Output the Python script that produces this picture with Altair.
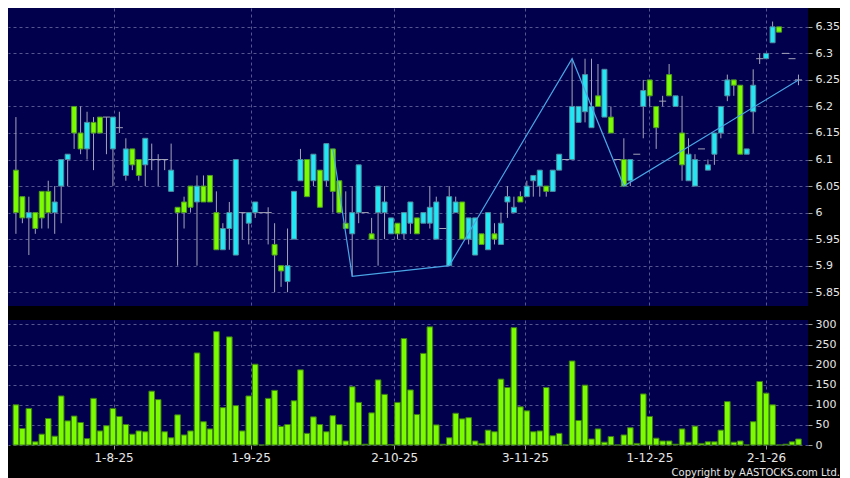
import altair as alt
import pandas as pd

# ---- data ----
opens = [6.08, 6.03, 5.99, 6.00, 6.04, 6.04, 6.00, 6.05, 6.10, 6.20,
         6.15, 6.12, 6.17, 6.18, 6.18, 6.12, 6.16, 6.07, 6.12, 6.10,
         6.09, 6.10, 6.10, 6.10, 6.04, 6.01, 6.02, 6.05, 6.02, 6.05,
         6.07, 6.00, 5.93, 5.97, 5.92, 6.00, 5.98, 6.00, 6.00, 6.00,
         5.94, 5.90, 5.87, 5.95, 6.06, 6.10, 6.06, 6.08, 6.06, 6.12,
         6.06, 5.98, 5.96, 6.00, 6.00, 5.96, 6.00, 6.00, 5.96, 5.98,
         5.96, 5.98, 5.99, 5.98, 5.98, 5.95, 5.97, 5.90, 6.00, 6.02,
         5.95, 5.92, 5.96, 5.93, 5.96, 5.94, 6.02, 6.00, 6.03, 6.03,
         6.06, 6.05, 6.05, 6.04, 6.08, 6.10, 6.10, 6.17, 6.19, 6.16,
         6.22, 6.18, 6.18, 6.10, 6.10, 6.06, 6.11, 6.20, 6.25, 6.20,
         6.21, 6.26, 6.20, 6.15, 6.06, 6.05, 6.12, 6.08, 6.11, 6.15,
         6.22, 6.25, 6.24, 6.11, 6.19, 6.29, 6.29, 6.32, 6.35, 6.30,
         6.29, 6.25]
highs = [6.18, 6.03, 6.03, 6.00, 6.04, 6.06, 6.05, 6.10, 6.11, 6.20,
         6.20, 6.19, 6.18, 6.18, 6.18, 6.18, 6.19, 6.14, 6.12, 6.10,
         6.14, 6.13, 6.11, 6.10, 6.13, 6.01, 6.03, 6.05, 6.07, 6.07,
         6.07, 6.04, 5.98, 6.02, 6.10, 6.00, 6.00, 6.02, 6.00, 6.01,
         5.98, 5.90, 5.97, 6.04, 6.12, 6.10, 6.11, 6.08, 6.13, 6.12,
         6.06, 6.04, 6.05, 6.09, 6.00, 5.99, 6.05, 6.05, 5.99, 5.98,
         6.00, 6.02, 5.99, 6.00, 6.05, 6.03, 5.97, 6.05, 6.03, 6.02,
         5.99, 5.99, 5.96, 6.00, 5.98, 6.00, 6.05, 6.03, 6.04, 6.06,
         6.07, 6.08, 6.05, 6.08, 6.11, 6.10, 6.29, 6.20, 6.29, 6.29,
         6.28, 6.27, 6.20, 6.10, 6.14, 6.10, 6.11, 6.25, 6.25, 6.20,
         6.22, 6.28, 6.22, 6.22, 6.14, 6.11, 6.12, 6.10, 6.15, 6.20,
         6.26, 6.25, 6.24, 6.12, 6.27, 6.30, 6.30, 6.36, 6.35, 6.30,
         6.29, 6.26]
lows = [5.96, 5.98, 5.92, 5.96, 5.97, 5.97, 5.96, 5.98, 6.05, 6.12,
        6.11, 6.10, 6.08, 6.15, 6.11, 6.05, 6.15, 6.06, 6.08, 6.06,
        6.05, 6.08, 6.05, 6.08, 6.04, 5.90, 5.97, 6.00, 5.90, 6.02,
        6.02, 5.93, 5.93, 5.93, 5.92, 5.95, 5.94, 5.99, 6.00, 5.94,
        5.85, 5.86, 5.85, 5.95, 6.06, 6.03, 6.05, 6.01, 6.05, 6.00,
        6.00, 5.97, 5.88, 5.98, 6.00, 5.95, 5.90, 5.95, 5.96, 5.95,
        5.95, 5.96, 5.96, 5.98, 5.97, 5.95, 5.97, 5.90, 6.00, 5.95,
        5.94, 5.92, 5.94, 5.93, 5.94, 5.94, 5.99, 6.00, 6.02, 6.03,
        6.03, 6.03, 6.03, 6.04, 6.08, 6.10, 6.10, 6.17, 6.17, 6.16,
        6.20, 6.18, 6.15, 6.10, 6.05, 6.05, 6.11, 6.14, 6.20, 6.12,
        6.20, 6.22, 6.20, 6.06, 6.06, 6.05, 6.12, 6.08, 6.09, 6.14,
        6.21, 6.22, 6.11, 6.11, 6.15, 6.28, 6.29, 6.32, 6.34, 6.30,
        6.29, 6.24]
closes = [6.00, 5.99, 6.00, 5.97, 5.99, 6.00, 6.02, 6.10, 6.11, 6.15,
          6.12, 6.17, 6.15, 6.15, 6.18, 6.18, 6.16, 6.12, 6.09, 6.07,
          6.14, 6.10, 6.10, 6.10, 6.08, 6.00, 6.00, 6.01, 6.05, 6.02,
          6.02, 5.93, 5.97, 6.00, 6.10, 6.00, 6.00, 6.02, 6.00, 6.00,
          5.92, 5.89, 5.90, 6.04, 6.10, 6.03, 6.11, 6.01, 6.13, 6.04,
          6.00, 5.97, 6.00, 6.09, 6.00, 5.95, 6.05, 6.02, 5.99, 5.96,
          6.00, 6.02, 5.96, 6.00, 6.01, 6.02, 5.97, 6.03, 6.02, 5.95,
          5.99, 5.99, 5.94, 6.00, 5.95, 5.98, 6.03, 6.01, 6.02, 6.05,
          6.07, 6.08, 6.04, 6.08, 6.11, 6.10, 6.20, 6.20, 6.26, 6.20,
          6.20, 6.27, 6.15, 6.10, 6.05, 6.10, 6.11, 6.23, 6.22, 6.16,
          6.21, 6.22, 6.22, 6.09, 6.11, 6.10, 6.12, 6.09, 6.15, 6.20,
          6.25, 6.24, 6.11, 6.12, 6.24, 6.29, 6.30, 6.35, 6.34, 6.30,
          6.29, 6.25]
volumes = [100, 41, 91, 8, 27, 66, 22, 122, 60, 72,
           56, 16, 116, 35, 48, 91, 71, 51, 27, 35,
           33, 134, 113, 33, 18, 75, 25, 35, 229, 58,
           40, 282, 93, 269, 98, 35, 122, 201, 0, 116,
           136, 46, 51, 110, 187, 29, 70, 51, 33, 73,
           51, 10, 145, 106, 2, 80, 162, 126, 1, 106,
           265, 137, 76, 228, 294, 50, 2, 18, 79, 65,
           68, 10, 4, 37, 33, 164, 143, 292, 95, 85,
           33, 35, 143, 23, 29, 0, 209, 61, 149, 15,
           40, 7, 21, 0, 25, 43, 4, 127, 71, 17,
           10, 10, 2, 40, 7, 47, 4, 8, 8, 37,
           108, 7, 10, 0, 58, 158, 129, 100, 0, 2,
           8, 15]

# zigzag overlay pivots (bar index, price)
zz_index = [49, 52, 67, 86, 94, 121]
zz_price = [6.12, 5.88, 5.90, 6.29, 6.05, 6.25]

# date axis labels and their positions (in bar units)
date_labels = ["1-8-25", "1-9-25", "2-10-25", "3-11-25", "1-12-25", "2-1-26"]
date_pos = [15.1, 36.3, 58.5, 78.7, 97.95, 116.0]

price_ticks = [5.85, 5.9, 5.95, 6.0, 6.05, 6.1, 6.15, 6.2, 6.25, 6.3, 6.35]
volume_ticks = [0, 50, 100, 150, 200, 250, 300]

# ---- styling ----
BG = "#000000"
PLOT_BG = "#00004c"
GRID = "#55558f"
GREEN = "#7cfc00"
GREEN_EDGE = "#4f9a22"
CYAN = "#22e6f2"
CYAN_EDGE = "#4f8aa0"
WICK = "#a4a4b8"
ZZ = "#4aa6e6"
TEXT = "#e6e6e6"
FONT = "DejaVu Sans"

W = 800
H_PRICE = 298
H_VOL = 125

df = pd.DataFrame({
    "i": list(range(len(opens))),
    "open": opens, "high": highs, "low": lows, "close": closes,
    "volume": volumes,
})
zz_df = pd.DataFrame({"i": zz_index, "price": zz_price})

xscale = alt.Scale(domain=[-0.45, 121.7], nice=False, zero=False)
yscale = alt.Scale(domain=[5.824, 6.3855], nice=False, zero=False)
vscale = alt.Scale(domain=[0, 311], nice=False)

x_price_axis = alt.Axis(values=date_pos, labels=False, ticks=False, domain=False,
                        grid=True, gridDash=[3, 3], gridColor=GRID, title=None)
y_price_axis = alt.Axis(orient="right", values=price_ticks,
                        labelExpr="format(datum.value, '~g')",
                        grid=True, gridDash=[3, 3], gridColor=GRID, domain=False,
                        tickColor="#9a9a9a", tickSize=4, labelPadding=3,
                        labelOverlap=False, labelBound=False, labelFlush=False,
                        labelColor=TEXT, labelFontSize=11,
                        labelFont=FONT, title=None)

X = alt.X("i:Q", scale=xscale, axis=x_price_axis)

base = alt.Chart(df)

wicks = base.mark_rule(color=WICK, strokeWidth=1).encode(
    x=X,
    y=alt.Y("low:Q", scale=yscale, axis=y_price_axis),
    y2="high:Q",
)

bodies = base.transform_filter("datum.open != datum.close").mark_bar(
    size=5, strokeWidth=1
).encode(
    x=X,
    y=alt.Y("open:Q", scale=yscale, axis=y_price_axis),
    y2="close:Q",
    color=alt.condition("datum.close > datum.open", alt.value(CYAN), alt.value(GREEN)),
    stroke=alt.condition("datum.close > datum.open", alt.value(CYAN_EDGE), alt.value(GREEN_EDGE)),
)

dojis = base.transform_filter("datum.open == datum.close").mark_tick(
    orient="horizontal", size=7, thickness=1, color=WICK, opacity=1
).encode(
    x=X,
    y=alt.Y("close:Q", scale=yscale, axis=y_price_axis),
)

zigzag = alt.Chart(zz_df).mark_line(color=ZZ, strokeWidth=1.2).encode(
    x=X,
    y=alt.Y("price:Q", scale=yscale, axis=y_price_axis),
)

price = alt.layer(wicks, bodies, dojis, zigzag).properties(width=W, height=H_PRICE)

label_expr = "[" + ",".join("'%s'" % s for s in date_labels) + "][indexof([" + \
    ",".join(str(p) for p in date_pos) + "], datum.value)]"

x_vol_axis = alt.Axis(values=date_pos, labelExpr=label_expr, domain=False,
                      grid=True, gridDash=[3, 3], gridColor=GRID,
                      ticks=True, tickColor="#9a9a9a", tickSize=4,
                      labelColor=TEXT, labelFontSize=12, labelFont=FONT,
                      labelPadding=3, labelOverlap=False, title=None)
y_vol_axis = alt.Axis(orient="right", values=volume_ticks, grid=True, gridDash=[3, 3],
                      gridColor=GRID, domain=False, tickColor="#9a9a9a", tickSize=4,
                      labelPadding=3, labelOverlap=False, labelColor=TEXT,
                      labelFontSize=11, labelFont=FONT, title=None)

vol_bars = base.mark_bar(size=5.6, color=GREEN, stroke="#3c7a18", strokeWidth=1).encode(
    x=alt.X("i:Q", scale=xscale, axis=x_vol_axis),
    y=alt.Y("volume:Q", scale=vscale, axis=y_vol_axis),
)

copyright_df = pd.DataFrame({"t": ["Copyright by AASTOCKS.com Ltd."]})
copyright = alt.Chart(copyright_df).mark_text(
    align="right", baseline="bottom", color=TEXT, font=FONT, fontSize=10
).encode(
    x=alt.value(W + 32),
    y=alt.value(H_VOL + 33),
    text="t:N",
)

volume = alt.layer(vol_bars, copyright).properties(width=W, height=H_VOL)

chart = alt.vconcat(price, volume, spacing=12).properties(
    background=BG,
    padding={"left": 0, "top": 0, "right": 0, "bottom": 0},
).configure_view(fill=PLOT_BG, strokeWidth=0)

chart.save("out.html", embed_options={"renderer": "svg", "actions": False})
